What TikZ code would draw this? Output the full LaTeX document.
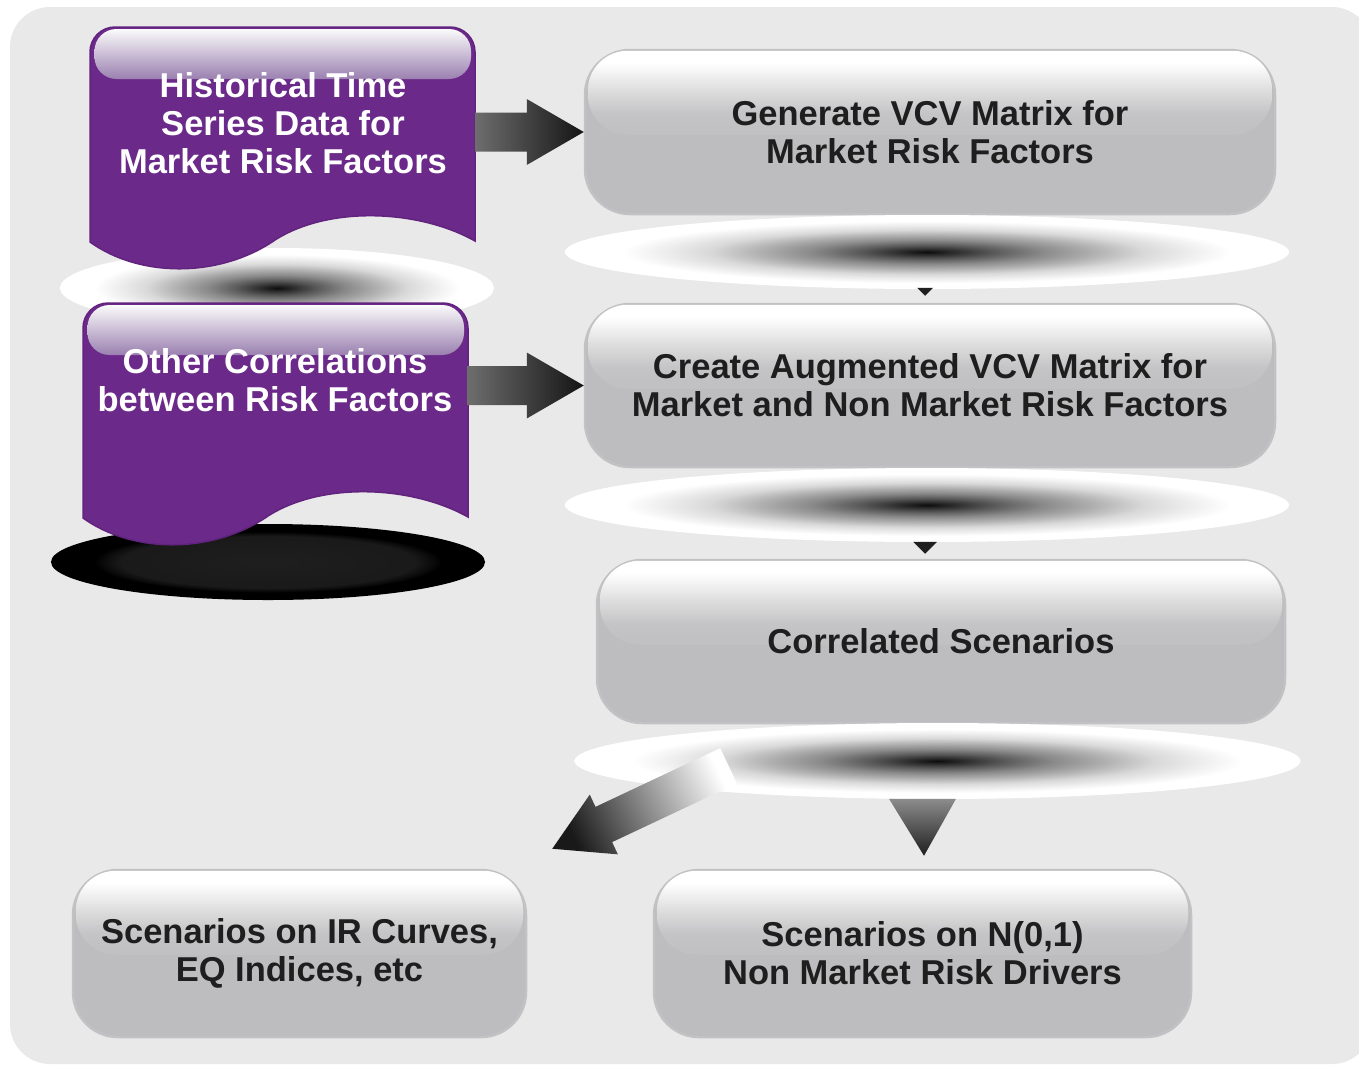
\documentclass[tikz,border=0pt]{standalone}
\usepackage{fontspec}
\setmainfont{Liberation Sans}
\usetikzlibrary{calc}
\definecolor{bg}{HTML}{E9E9E9}
\definecolor{boxgray}{HTML}{BDBDBF}
\definecolor{boxedge}{HTML}{C2C2C4}
\definecolor{purp}{HTML}{6B2A8A}
\definecolor{purpedge}{HTML}{62237F}
\definecolor{txt}{HTML}{1E1E1E}
\definecolor{pgbot}{HTML}{9A80B0}
\definecolor{pgmid}{HTML}{D3C8DC}
\definecolor{pgtop}{HTML}{FAFAFA}
\pgfdeclareradialshading{blob}{\pgfpoint{0bp}{0bp}}{color(0bp)=(black!95); color(1.2bp)=(black!87); color(4.6bp)=(black!65); color(8bp)=(black!46); color(11.5bp)=(black!31); color(15bp)=(black!15); color(18.5bp)=(black!6); color(21bp)=(white); color(50bp)=(white)}
\pgfdeclareradialshading{darkblob}{\pgfpoint{0bp}{0bp}}{color(0bp)=(black!88); color(17bp)=(black!90); color(19bp)=(black!96); color(20bp)=(black); color(50bp)=(black)}
\pgfdeclareverticalshading{gloss}{100bp}{color(0bp)=(boxgray!95!white); color(25bp)=(boxgray!95!white); color(31bp)=(boxgray!93!white); color(38bp)=(boxgray!88!white); color(50bp)=(boxgray!55!white); color(62bp)=(boxgray!18!white); color(68bp)=(white); color(100bp)=(white)}
\newcommand{\myblockarrow}[3]{%
  \coordinate (bah) at ($(#3)!57pt!(#2)$);
  \shade[#1] ($(#2)!19.5pt!-90:(#3)$) -- ($(bah)!19.5pt!-90:(#3)$) -- ($(bah)!33pt!-90:(#3)$) -- (#3) -- ($(bah)!33pt!90:(#3)$) -- ($(bah)!19.5pt!90:(#3)$) -- ($(#2)!19.5pt!90:(#3)$) -- cycle;}
\newcommand{\mydocpath}{(90,242) -- (90,52) arc[start angle=180,end angle=270,radius=25] -- (450,27) arc[start angle=270,end angle=360,radius=25] -- (475,241) .. controls (420,210) and (330,205) .. (275,240) .. controls (220,278) and (140,278) .. (90,242) -- cycle}
% #1 name, #2 centre, #3 width, #4 height, #5 text
\newcommand{\mybox}[5]{%
  \node[graybox, minimum width=#3, minimum height=#4] (#1) at (#2) {};
  \shade[shading=gloss, rounded corners=40pt] ($(#1.north west)+(4,2)$) rectangle ($(#1.north east)+(-4,86)$);
  \node[lbl, text=txt] (#1-txt) at (#1.center) {#5};}
\begin{document}
\begin{tikzpicture}[x=1pt,y=-1pt,
  lbl/.style={font=\bfseries\fontsize{34.5}{38}\selectfont, align=center, inner sep=0pt},
  graybox/.style={draw=boxedge, line width=2.5pt, fill=boxgray, rounded corners=45pt, inner sep=0pt},
  doctext/.style={lbl, text=white},
  docbody/.style={fill=purp, draw=purpedge, line width=1.5pt},
  docgloss/.style={top color=pgtop, middle color=pgmid, bottom color=pgbot, rounded corners=22pt},
  sheen/.style={shading=blob},
  hole/.style={shading=darkblob},
  ghost/.style={inner sep=0pt, outer sep=0pt},
]
\useasboundingbox (0,0) rectangle (1359,1066);
\clip (0,0) rectangle (1359,1066);
\fill[bg, rounded corners=40pt] (10,7) rectangle (1372,1064);

% shadows under documents
\shade[sheen] (277,288) ellipse [x radius=217, y radius=40];
\shade[hole] (268,562) ellipse [x radius=217, y radius=38];

% document 1
\path[docbody] \mydocpath;
\shade[docgloss] (94.5,29) rectangle (471,79);
\node[ghost, minimum width=385, minimum height=215] (docA) at (282.5,134.5) {};
% document 2
\begin{scope}[shift={(-7,276)}]
\path[docbody] \mydocpath;
\shade[docgloss] (94.5,29) rectangle (471,79);
\end{scope}
\node[ghost, minimum width=384, minimum height=215] (docB) at (275,410.5) {};

\node[doctext] (histtxt) at (283,123) {Historical Time\\Series Data for\\Market Risk Factors};
\node[doctext] (othtxt) at (275,380) {Other Correlations\\between Risk Factors};

% boxes
\mybox{gen}{930,132}{690}{164}{Generate VCV Matrix for\\Market Risk Factors}
\mybox{aug}{930,385.5}{690}{163}{Create Augmented VCV Matrix for\\Market and Non Market Risk Factors}
\mybox{corr}{941,641.5}{688}{163}{Correlated Scenarios}
\mybox{irc}{299.5,953.5}{453}{167}{Scenarios on IR Curves,\\EQ Indices, etc}
\mybox{nmr}{922.5,953.5}{537}{167}{Scenarios on N(0,1)\\Non Market Risk Drivers}

% reflections under boxes
\shade[sheen] (927,252) ellipse [x radius=362, y radius=37];
\shade[sheen] (927,505) ellipse [x radius=362, y radius=37];
\shade[sheen] (937.5,761) ellipse [x radius=363, y radius=38];

% arrowheads between boxes
\fill[black!88] ($(aug.north)+(-13,-15)$) -- ($(aug.north)+(3,-15)$) -- ($(aug.north)+(-5,-7)$) -- cycle;
\fill[black!88] ($(corr.north)+(-28,-17)$) -- ($(corr.north)+(-4,-17)$) -- ($(corr.north)+(-16,-5)$) -- cycle;
\shade[top color=black!45, bottom color=black!88] ($(nmr.north)+(-33.5,-70)$) -- ($(nmr.north)+(33.5,-70)$) -- ($(nmr.north)+(1.5,-13)$) -- cycle;

% block arrows
\coordinate (a1t) at (docA.east |- gen.west);
\myblockarrow{left color=black!57, right color=black!92}{a1t}{gen.west}
\coordinate (a2t) at (docB.east |- aug.west);
\myblockarrow{left color=black!57, right color=black!92}{a2t}{aug.west}
\coordinate (dtail) at ($(corr.south)+(-212.5,41.5)$);
\coordinate (dtip) at ($(irc.north east)+(25,-20)$);
\myblockarrow{top color=white, bottom color=black!90, shading angle=-64.4}{dtail}{dtip}
\end{tikzpicture}
\end{document}
